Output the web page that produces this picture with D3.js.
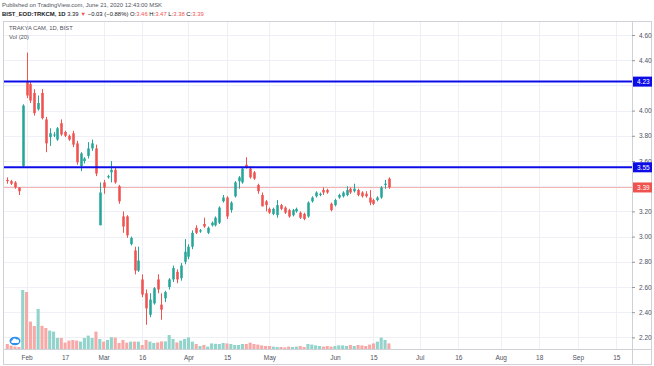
<html>
<head>
<meta charset="UTF-8">
<script src="https://d3js.org/d3.v7.min.js"></script>
<style>
body { margin: 0; background: #fff; }
text { font-family: "Liberation Sans", "DejaVu Sans", sans-serif; }
</style>
</head>
<body>
<svg id="chart" width="654" height="366"></svg>
<script>

// daily bars, 27 Jan 2020 .. 19 Jun 2020 (bar index 0..99)
var opens  = [3.45,3.44,3.43,3.39,3.56,4.23,4.21,4.14,4.01,4.14, 3.93,3.79,3.81,3.77,3.90,3.83,3.80,3.82,3.74,3.56,
              3.60,3.64,3.70,3.70,3.09,3.43,3.47,3.51,3.53,3.40, 3.16,3.16,2.94,2.89,2.73,2.66,2.55,2.38,2.47,2.66,
              2.46,2.51,2.60,2.66,2.72,2.67,2.80,2.84,2.92,3.07, 3.04,3.10,3.03,3.09,3.09,3.11,3.28,3.31,3.21,3.32,
              3.44,3.43,3.57,3.54,3.51,3.41,3.33,3.28,3.22,3.18, 3.17,3.25,3.23,3.21,3.17,3.20,3.19,3.18,3.16,3.28,
              3.32,3.33,3.37,3.37,3.26,3.25,3.31,3.32,3.33,3.38, 3.36,3.37,3.35,3.34,3.31,3.29,3.29,3.31,3.41,3.46];
var highs  = [3.47,3.45,3.44,3.39,4.05,4.46,4.23,4.17,4.12,4.17, 3.95,3.86,3.83,3.87,3.93,3.84,3.81,3.84,3.76,3.67,
              3.63,3.75,3.77,3.73,3.43,3.45,3.49,3.60,3.55,3.41, 3.20,3.17,3.00,2.92,2.92,2.70,2.58,2.55,2.60,2.70,
              2.55,2.57,2.67,2.77,2.74,2.79,2.98,2.94,3.05,3.09, 3.06,3.15,3.08,3.12,3.16,3.24,3.33,3.32,3.28,3.44,
              3.48,3.55,3.63,3.56,3.52,3.42,3.35,3.29,3.23,3.23, 3.29,3.26,3.24,3.22,3.22,3.23,3.20,3.19,3.28,3.32,
              3.36,3.35,3.39,3.38,3.27,3.30,3.34,3.36,3.40,3.39, 3.42,3.38,3.36,3.36,3.37,3.30,3.32,3.40,3.45,3.47];
var lows   = [3.42,3.41,3.38,3.33,3.55,4.10,4.06,3.96,4.00,3.93, 3.67,3.72,3.79,3.76,3.80,3.79,3.76,3.71,3.57,3.52,
              3.58,3.62,3.68,3.48,3.09,3.34,3.46,3.43,3.42,3.26, 3.03,2.99,2.93,2.70,2.72,2.52,2.30,2.36,2.46,2.55,
              2.34,2.48,2.58,2.64,2.63,2.65,2.78,2.82,2.90,3.02, 3.03,3.07,3.02,3.08,3.08,3.10,3.27,3.14,3.19,3.31,
              3.38,3.42,3.54,3.46,3.45,3.34,3.24,3.20,3.18,3.17, 3.15,3.21,3.18,3.15,3.16,3.19,3.14,3.13,3.15,3.27,
              3.31,3.32,3.33,3.34,3.20,3.24,3.30,3.31,3.32,3.34, 3.35,3.32,3.31,3.31,3.25,3.25,3.28,3.30,3.38,3.38];
var closes = [3.44,3.42,3.39,3.36,4.04,4.12,4.08,3.98,4.06,3.94, 3.74,3.82,3.81,3.86,3.81,3.80,3.77,3.73,3.59,3.66,
              3.62,3.70,3.74,3.50,3.35,3.39,3.48,3.53,3.43,3.28, 3.08,3.01,2.99,2.73,2.81,2.54,2.43,2.50,2.59,2.58,
              2.42,2.56,2.66,2.75,2.66,2.77,2.88,2.92,3.03,3.03, 3.05,3.08,3.07,3.11,3.15,3.23,3.31,3.16,3.27,3.43,
              3.47,3.54,3.55,3.47,3.46,3.36,3.24,3.25,3.19,3.22, 3.25,3.22,3.19,3.16,3.21,3.22,3.15,3.14,3.27,3.31,
              3.35,3.34,3.35,3.35,3.21,3.29,3.33,3.35,3.37,3.35, 3.38,3.33,3.32,3.32,3.27,3.26,3.31,3.39,3.42,3.39];
// volume, millions of shares
var volumes = [2.5,1.7,1.2,1.0,29.5,28.5,13.7,11.5,20.0,11.6, 10.5,9.2,8.7,5.5,5.5,3.2,4.2,4.5,4.2,3.7,
               5.5,6.7,5.5,8.7,5.0,3.7,4.5,5.9,5.7,3.0, 4.5,3.2,3.7,3.7,3.7,2.0,4.5,3.7,3.0,3.3,
               3.8,3.8,7.0,5.0,3.3,4.2,5.0,5.8,3.7,2.5, 1.5,2.0,1.2,2.8,2.6,2.5,3.0,2.8,2.5,2.0,
               2.0,2.5,2.5,3.2,2.5,2.2,1.8,1.5,1.5,1.2, 1.0,1.0,0.8,1.2,1.0,1.2,1.5,1.0,2.5,2.2,
               1.8,1.5,1.2,1.5,1.2,1.5,1.8,1.8,1.5,2.0, 1.5,2.0,1.8,1.5,2.2,2.8,3.7,5.7,4.5,2.8];

// time axis labels (bar index incl. future bars)
var tickIdx    = [5, 15, 25, 35, 47, 57, 68, 85, 95, 107, 117, 128, 138, 148, 158];
var tickLabels = ["Feb","17","Mar","16","Apr","15","May","Jun","15","Jul","16","Aug","18","Sep","15"];

// price axis (4.20 and 3.40 sit under the level labels, so only gridlines)
var priceGrid  = [2.2, 2.4, 2.6, 2.8, 3.0, 3.2, 3.4, 3.6, 3.8, 4.0, 4.2, 4.4, 4.6];
var priceTicks = [2.2, 2.4, 2.6, 2.8, 3.0, 3.2, 3.6, 3.8, 4.0, 4.4, 4.6];
var hLines = [4.23, 3.55];
var lastPrice = 3.39;

var svg = d3.select("#chart");
var paneL = 4, paneR = 632, paneT = 21, paneB = 349;

var x = d3.scaleLinear().domain([0, 99]).range([7.3, 388.9]);
var step = x(1) - x(0);
var y = d3.scaleLinear().domain([2.2, 4.6]).range([337.4, 35]);
var yv = d3.scaleLinear().domain([0, 29.5]).range([paneB, 290]);

var up = "#26a69a", down = "#ef5350";
var data = opens.map((o, i) => ({i: i, o: o, h: highs[i], l: lows[i], c: closes[i], v: volumes[i]}));

// grid
svg.append("g").selectAll("line").data(priceGrid).join("line")
	.attr("x1", paneL).attr("x2", paneR)
	.attr("y1", d => Math.round(y(d)) + 0.5).attr("y2", d => Math.round(y(d)) + 0.5)
	.attr("stroke", "#eef0f6");
svg.append("g").selectAll("line").data(tickIdx).join("line")
	.attr("x1", d => Math.round(x(d)) + 0.5).attr("x2", d => Math.round(x(d)) + 0.5)
	.attr("y1", paneT).attr("y2", paneB)
	.attr("stroke", "#eef0f6");

// volume
svg.append("g").selectAll("rect").data(data).join("rect")
	.attr("x", d => x(d.i) - step * 0.4)
	.attr("width", step * 0.8)
	.attr("y", d => yv(d.v))
	.attr("height", d => paneB - yv(d.v))
	.attr("fill", d => d.c >= d.o ? "#92d3cc" : "#f7a9a7");

// last price line
svg.append("line")
	.attr("x1", paneL).attr("x2", paneR)
	.attr("y1", Math.round(y(lastPrice)) + 0.5).attr("y2", Math.round(y(lastPrice)) + 0.5)
	.attr("stroke", "#f6b3b1").attr("stroke-width", 1);

// candles
var candles = svg.append("g").selectAll("g").data(data).join("g")
	.attr("fill", d => d.c >= d.o ? up : down)
	.attr("stroke", d => d.c >= d.o ? up : down);
candles.append("line")
	.attr("x1", d => Math.round(x(d.i)) + 0.5).attr("x2", d => Math.round(x(d.i)) + 0.5)
	.attr("y1", d => y(d.h)).attr("y2", d => y(d.l))
	.attr("stroke-width", 1);
candles.append("rect")
	.attr("stroke", "none")
	.attr("x", d => Math.round(x(d.i)) + 0.5 - step * 0.33)
	.attr("width", step * 0.66)
	.attr("y", d => y(Math.max(d.o, d.c)))
	.attr("height", d => Math.max(1, Math.abs(y(d.o) - y(d.c))));

// horizontal levels
svg.append("g").selectAll("line").data(hLines).join("line")
	.attr("x1", paneL).attr("x2", paneR)
	.attr("y1", d => y(d)).attr("y2", d => y(d))
	.attr("stroke", "#0c0ce8").attr("stroke-width", 2);

// frame
svg.append("rect").attr("x", 3.5).attr("y", 21.5).attr("width", 648).attr("height", 343)
	.attr("fill", "none").attr("stroke", "#cfd1d6");
svg.append("line").attr("x1", paneR + 0.5).attr("x2", paneR + 0.5).attr("y1", 21).attr("y2", 365)
	.attr("stroke", "#cfd1d6");
svg.append("line").attr("x1", 4).attr("x2", 652).attr("y1", paneB + 0.5).attr("y2", paneB + 0.5)
	.attr("stroke", "#cfd1d6");

// price axis
var pa = svg.append("g").attr("transform", `translate(${paneR},0)`)
	.call(d3.axisRight(y).tickValues(priceTicks).tickFormat(d3.format(".2f")).tickSize(3).tickPadding(4));
pa.select(".domain").remove();
pa.selectAll("line").attr("stroke", "#9598a1");
pa.selectAll("text").attr("fill", "#50535e").attr("font-size", 6.5)
	.style("font-family", "Liberation Sans, sans-serif");

// price labels on the axis
var labels = hLines.map(p => ({p: p, col: "#0c0ce8"})).concat([{p: lastPrice, col: down}]);
var lab = svg.append("g").selectAll("g").data(labels).join("g")
	.attr("transform", d => `translate(${paneR + 1},${y(d.p)})`);
lab.append("rect").attr("x", 0).attr("y", -5).attr("width", 19).attr("height", 10).attr("fill", d => d.col);
lab.append("text").attr("x", 4).attr("y", 2.3).attr("fill", "#fff").attr("font-size", 6.5)
	.text(d => d3.format(".2f")(d.p));

// time axis
var ta = svg.append("g").attr("transform", `translate(0,${paneB})`)
	.call(d3.axisBottom(x).tickValues(tickIdx).tickFormat((d, i) => tickLabels[i]).tickSize(0).tickPadding(6));
ta.select(".domain").remove();
ta.selectAll("text").attr("fill", "#50535e").attr("font-size", 6.5)
	.style("font-family", "Liberation Sans, sans-serif");

// header
svg.append("text").attr("x", 2).attr("y", 7).attr("font-size", 5.9).attr("fill", "#50535e")
	.text("Published on TradingView.com, June 21, 2020 12:43:00 MSK");
var h2 = svg.append("text").attr("x", 2).attr("y", 16).attr("font-size", 5.9).attr("fill", "#131722");
h2.append("tspan").attr("font-weight", "bold").text("BIST_EOD:TRKCM, 1D ");
h2.append("tspan").text(" 3.39 ");
h2.append("tspan").attr("fill", down).text("▼");
h2.append("tspan").text(" −0.03 (−0.88%) O:");
h2.append("tspan").attr("fill", down).text("3.46");
h2.append("tspan").text(" H:");
h2.append("tspan").attr("fill", down).text("3.47");
h2.append("tspan").text(" L:");
h2.append("tspan").attr("fill", down).text("3.38");
h2.append("tspan").text(" C:");
h2.append("tspan").attr("fill", down).text("3.39");

svg.append("text").attr("x", 9).attr("y", 30).attr("font-size", 5.8).attr("fill", "#50535e")
	.text("TRAKYA CAM, 1D, BIST");
svg.append("text").attr("x", 9).attr("y", 39).attr("font-size", 5.8).attr("fill", "#50535e")
	.text("Vol (20)");

// tradingview badge
svg.append("ellipse").attr("cx", 15).attr("cy", 341).attr("rx", 5.5).attr("ry", 4.2).attr("fill", "#2e8ff0");
svg.append("path").attr("d", "M12,343 a1.5,1.5 0 0 1 0.5,-2.8 a2,2 0 0 1 3.8,-0.6 a1.6,1.6 0 0 1 1.8,3.4 z")
	.attr("fill", "#fff");

</script>
</body>
</html>
